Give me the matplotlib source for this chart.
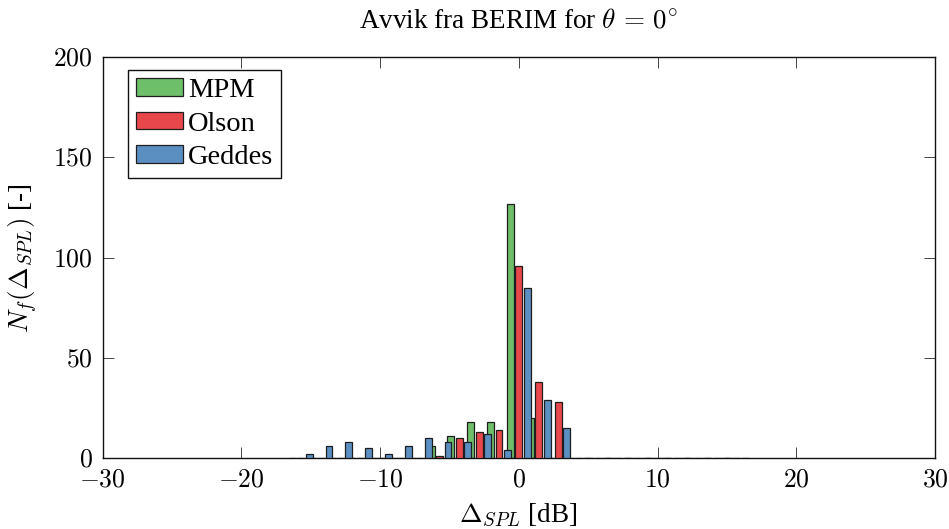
import matplotlib
matplotlib.use("Agg")
import matplotlib.pyplot as plt
from matplotlib.ticker import FuncFormatter, MultipleLocator

plt.rcParams["font.family"] = ["Liberation Serif", "DejaVu Serif"]
plt.rcParams["mathtext.fontset"] = "cm"

# Histogram bin centres of the SPL deviation [dB]
bin_centres = [-15.71, -14.29, -12.86, -11.43, -10.00, -8.57, -7.14, -5.71,
               -4.29, -2.86, -1.43, 0.00, 1.43, 2.86, 4.29, 5.71, 7.14,
               8.57, 10.00, 11.43, 12.86, 14.29, 15.71]

# Number of frequencies per bin for each model
mpm = [0, 0, 0, 0, 0, 0, 0, 6, 11, 18, 18, 127, 20, 0,
       0, 0, 0, 0, 0, 0, 0, 0, 0]
olson = [0, 0, 0, 0, 0, 0, 0, 1, 10, 13, 14, 96, 38, 28,
         0, 0, 0, 0, 0, 0, 0, 0, 0]
geddes = [2, 6, 8, 5, 2, 6, 10, 8, 8, 12, 4, 85, 29, 15,
          0, 0, 0, 0, 0, 0, 0, 0, 0]

series = [("MPM", mpm, "#6dbf6a"),
          ("Olson", olson, "#e8484b"),
          ("Geddes", geddes, "#5b8fc1")]

bar_width = 0.5
bar_shift = 0.606

fig = plt.figure(figsize=(9.49, 5.29), dpi=100)
ax = fig.add_axes([0.1082, 0.1333, 0.8770, 0.7589])

for i, (name, counts, colour) in enumerate(series):
    xs = [c + (i - 1) * bar_shift for c in bin_centres]
    ax.bar(xs, counts, width=bar_width, color=colour, edgecolor="#1e1e1e",
           linewidth=0.9, label=name, zorder=2 + i)

ax.set_xlim(-30, 30)
ax.set_ylim(0, 200)
ax.xaxis.set_major_locator(MultipleLocator(10))
ax.yaxis.set_major_locator(MultipleLocator(50))
ax.xaxis.set_major_formatter(FuncFormatter(lambda v, p: f"${v:g}$"))
ax.yaxis.set_major_formatter(FuncFormatter(lambda v, p: f"${v:g}$"))
ax.tick_params(direction="in", length=8, width=0.7, color="#444444",
               top=True, right=True, labelsize=18.5)
ax.tick_params(axis="x", pad=8)
ax.tick_params(axis="y", pad=7)
for sp in ax.spines.values():
    sp.set_linewidth(1.0)
    sp.set_color("#111111")

ax.set_title(r"Avvik fra BERIM for $\theta\,=\,0^{\circ}$", fontsize=19.5, pad=21)
ax.set_xlabel(r"$\Delta_{SPL}$ [dB]", fontsize=19.5, labelpad=7)
ax.set_ylabel(r"$N_f(\Delta_{SPL})$ [-]", fontsize=19.5, labelpad=10)

leg = ax.legend(loc="upper left", bbox_to_anchor=(0.0308, 0.9676),
                borderaxespad=0, fontsize=20.5, handlelength=1.65,
                handleheight=0.56, handletextpad=0.16, labelspacing=0.3,
                borderpad=0.28, fancybox=False, framealpha=1)
leg.get_frame().set_edgecolor("#111111")
leg.get_frame().set_linewidth(1.0)

fig.savefig("out.png", dpi=100)
